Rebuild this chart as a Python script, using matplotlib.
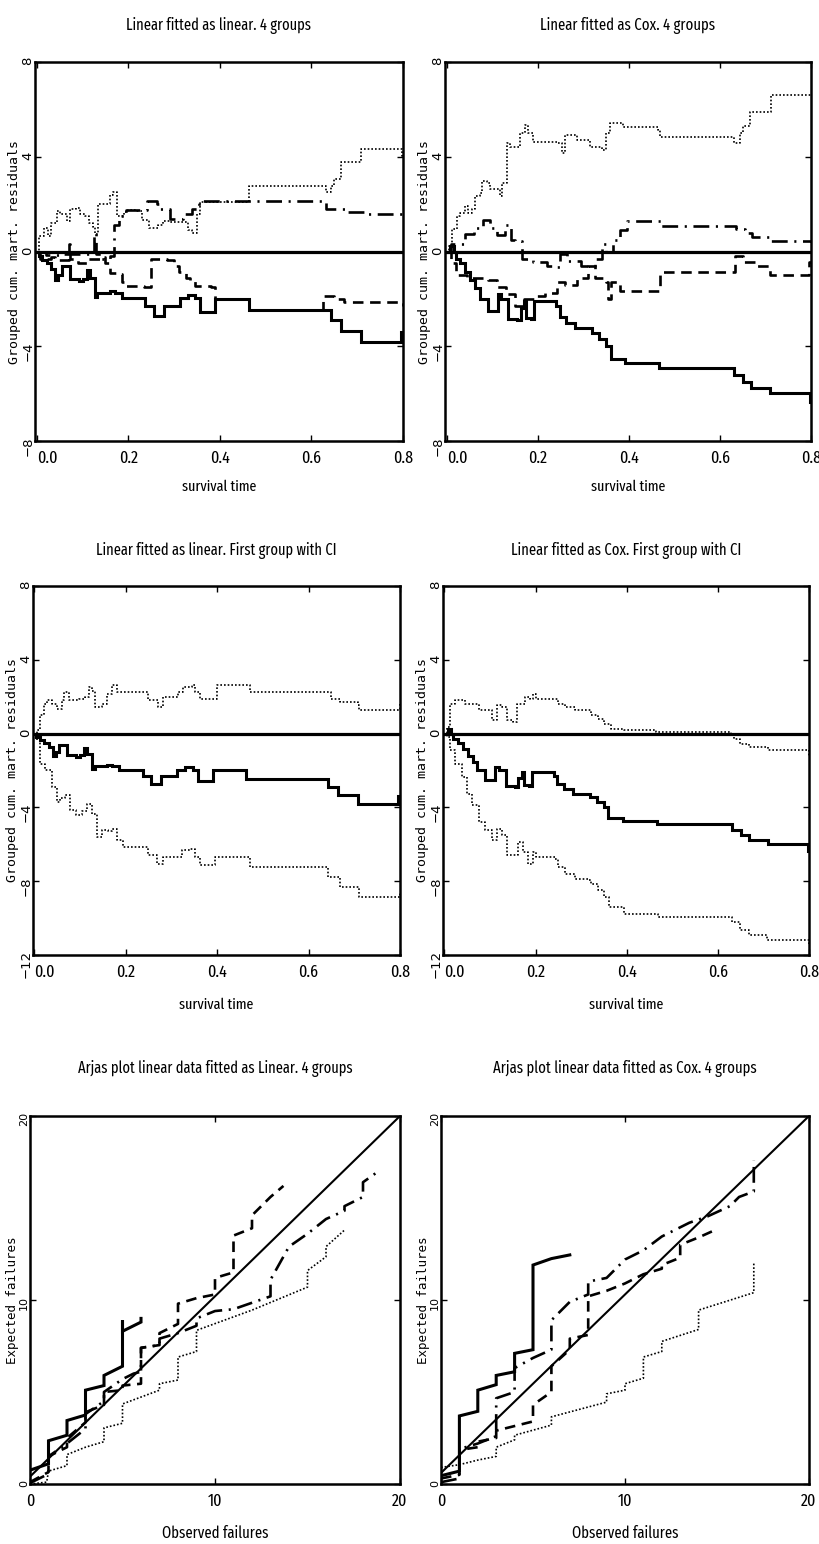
import matplotlib
matplotlib.use("Agg")
import matplotlib.pyplot as plt
import matplotlib.font_manager as fm

# ---------------- data ----------------
# Cumulative martingale residuals, linear model fitted as linear (4 groups)
lin_g1_x = [0.000, 0.004, 0.012, 0.022, 0.032, 0.040, 0.047, 0.054, 0.072, 0.092, 0.100, 0.109, 0.116,
            0.127, 0.132, 0.160, 0.170, 0.186, 0.237, 0.255, 0.277, 0.313, 0.330, 0.346, 0.357, 0.390,
            0.464, 0.643, 0.665, 0.709, 0.796, 0.800]
lin_g1_y = [0.0, -0.2, -0.35, -0.5, -0.75, -1.2, -1.0, -0.62, -1.18, -1.25, -1.18, -0.76, -1.1,
            -1.9, -1.75, -1.68, -1.75, -1.96, -2.31, -2.73, -2.31, -1.96, -1.82, -1.96, -2.55, -2.0,
            -2.45, -2.9, -3.35, -3.8, -3.4, -3.4]

lin_g2_x = [0.000, 0.008, 0.030, 0.040, 0.070, 0.072, 0.090, 0.110, 0.140, 0.150, 0.160, 0.172, 0.185,
            0.195, 0.235, 0.250, 0.270, 0.285, 0.300, 0.310, 0.325, 0.335, 0.345, 0.380, 0.390, 0.464,
            0.625, 0.650, 0.672, 0.800]
lin_g2_y = [0.0, -0.3, -0.25, -0.35, 0.3, -0.3, -0.5, -0.3, -0.25, -0.5, -0.9, -0.95, -1.3,
            -1.45, -1.5, -0.3, -0.3, -0.35, -0.6, -0.85, -1.1, -1.25, -1.45, -1.5, -2.0, -2.45,
            -1.87, -2.0, -2.13, -2.3]

lin_g3_x = [0.000, 0.020, 0.060, 0.100, 0.125, 0.130, 0.140, 0.160, 0.168, 0.180, 0.195, 0.240, 0.263,
            0.270, 0.290, 0.320, 0.340, 0.354, 0.615, 0.632, 0.680, 0.720, 0.800]
lin_g3_y = [0.0, -0.15, -0.1, -0.1, 0.77, -0.1, -0.3, -0.2, 1.1, 1.5, 1.77, 2.15, 2.0,
            1.8, 1.37, 1.58, 1.8, 2.14, 2.14, 1.8, 1.65, 1.58, 1.58]

lin_g4_x = [0.000, 0.005, 0.015, 0.025, 0.032, 0.044, 0.050, 0.065, 0.072, 0.085, 0.095, 0.105, 0.115,
            0.122, 0.127, 0.134, 0.155, 0.160, 0.166, 0.175, 0.190, 0.200, 0.215, 0.230, 0.245, 0.265,
            0.275, 0.290, 0.320, 0.330, 0.340, 0.350, 0.356, 0.400, 0.464, 0.632, 0.643, 0.650, 0.665,
            0.709, 0.797, 0.800]
lin_g4_y = [0.0, 0.65, 1.0, 0.65, 1.2, 1.7, 1.6, 1.3, 1.8, 1.85, 1.6, 1.5, 1.2,
            1.05, 0.75, 2.0, 2.0, 2.4, 2.5, 1.5, 1.65, 1.75, 1.7, 1.35, 1.0, 1.1,
            1.3, 1.25, 1.25, 0.9, 0.8, 1.6, 2.07, 2.1, 2.77, 2.5, 2.75, 3.06, 3.76,
            4.32, 4.04, 4.04]

# Linear model fitted as Cox (4 groups)
cox_g1_x = [0.000, 0.008, 0.015, 0.020, 0.030, 0.040, 0.052, 0.062, 0.072, 0.090, 0.108, 0.112, 0.120,
            0.135, 0.155, 0.162, 0.170, 0.175, 0.185, 0.192, 0.240, 0.248, 0.262, 0.282, 0.320, 0.335,
            0.350, 0.360, 0.392, 0.466, 0.630, 0.650, 0.668, 0.710, 0.797, 0.800]
cox_g1_y = [0.0, 0.25, 0.0, -0.3, -0.5, -0.85, -1.2, -1.55, -2.0, -2.5, -2.5, -1.8, -2.0,
            -2.85, -2.9, -2.4, -2.1, -2.8, -2.85, -2.1, -2.3, -2.75, -3.0, -3.25, -3.45, -3.7,
            -4.0, -4.55, -4.72, -4.92, -5.2, -5.5, -5.75, -5.98, -6.37, -6.37]

cox_g2_x = [0.000, 0.010, 0.020, 0.045, 0.090, 0.110, 0.130, 0.150, 0.170, 0.193, 0.215, 0.243, 0.260,
            0.285, 0.310, 0.325, 0.350, 0.355, 0.360, 0.380, 0.468, 0.632, 0.650, 0.680, 0.710, 0.795,
            0.800]
cox_g2_y = [0.0, -0.5, -1.0, -1.1, -1.2, -1.5, -1.8, -2.3, -2.0, -1.89, -1.74, -1.3, -1.4,
            -1.1, -0.63, -1.1, -1.3, -2.0, -1.3, -1.65, -0.88, -0.2, -0.45, -0.6, -1.0, -0.46,
            -0.46]

cox_g3_x = [0.000, 0.010, 0.040, 0.060, 0.079, 0.095, 0.110, 0.127, 0.140, 0.150, 0.165, 0.190, 0.220,
            0.240, 0.248, 0.265, 0.295, 0.325, 0.340, 0.350, 0.365, 0.380, 0.395, 0.470, 0.635, 0.655,
            0.670, 0.710, 0.800]
cox_g3_y = [0.0, 0.3, 0.72, 1.0, 1.35, 1.0, 0.7, 1.1, 0.5, 0.45, -0.3, -0.45, -0.6,
            -0.65, -0.1, -0.4, -0.6, -0.3, 0.3, 0.0, 0.5, 0.9, 1.3, 1.08, 0.94, 0.8,
            0.6, 0.45, 0.41]

cox_g4_x = [0.000, 0.004, 0.011, 0.022, 0.029, 0.040, 0.047, 0.055, 0.062, 0.073, 0.077, 0.088, 0.095,
            0.110, 0.117, 0.121, 0.132, 0.139, 0.153, 0.161, 0.172, 0.179, 0.190, 0.241, 0.252, 0.259,
            0.285, 0.314, 0.340, 0.350, 0.358, 0.387, 0.464, 0.468, 0.630, 0.643, 0.650, 0.665, 0.712,
            0.800]
cox_g4_y = [0.0, 0.24, 0.94, 1.5, 1.64, 1.92, 1.64, 1.8, 2.34, 2.48, 2.97, 2.9, 2.62,
            2.62, 2.34, 2.9, 4.57, 4.43, 4.43, 5.0, 5.34, 5.0, 4.64, 4.57, 4.15, 4.92,
            4.71, 4.43, 4.29, 5.0, 5.41, 5.27, 5.13, 4.85, 4.57, 5.0, 5.3, 5.9, 6.6,
            6.6]

# First group with pointwise confidence limits
lin_up_x = [0.000, 0.006, 0.013, 0.020, 0.028, 0.039, 0.049, 0.060, 0.064, 0.075, 0.097, 0.111, 0.119,
            0.126, 0.133, 0.148, 0.159, 0.169, 0.180, 0.242, 0.249, 0.271, 0.282, 0.315, 0.326, 0.344,
            0.351, 0.362, 0.399, 0.471, 0.649, 0.668, 0.708, 0.711, 0.799, 0.800]
lin_up_y = [0.0, 0.18, 1.0, 1.63, 1.8, 1.6, 1.35, 1.8, 2.26, 1.8, 1.85, 2.0, 2.53,
            2.3, 1.45, 1.63, 2.17, 2.62, 2.26, 2.26, 1.8, 1.45, 2.0, 2.26, 2.53, 2.62,
            2.26, 1.9, 2.62, 2.26, 1.9, 1.72, 1.54, 1.26, 1.63, 1.63]
lin_lo_x = [0.000, 0.006, 0.013, 0.024, 0.039, 0.049, 0.057, 0.068, 0.079, 0.090, 0.104, 0.115, 0.126,
            0.137, 0.148, 0.162, 0.169, 0.180, 0.195, 0.249, 0.268, 0.282, 0.322, 0.340, 0.351, 0.362,
            0.395, 0.471, 0.642, 0.668, 0.711, 0.799, 0.800]
lin_lo_y = [0.0, -0.36, -1.63, -2.0, -2.9, -3.7, -3.5, -3.34, -4.15, -4.43, -4.2, -3.8, -4.34,
            -5.6, -5.24, -5.3, -5.15, -5.78, -6.14, -6.6, -7.05, -6.7, -6.3, -6.23, -6.7, -7.14,
            -6.7, -7.23, -7.77, -8.31, -8.85, -8.58, -8.58]

cox_up_x = [0.000, 0.006, 0.013, 0.024, 0.046, 0.075, 0.104, 0.115, 0.126, 0.137, 0.151, 0.159, 0.177,
            0.187, 0.195, 0.202, 0.242, 0.249, 0.264, 0.286, 0.322, 0.337, 0.351, 0.366, 0.395, 0.464,
            0.628, 0.635, 0.649, 0.668, 0.711, 0.799, 0.800]
cox_up_y = [0.0, 0.36, 1.63, 1.8, 1.63, 1.26, 0.72, 1.54, 1.45, 0.72, 0.63, 1.63, 2.0,
            1.85, 2.17, 1.9, 1.9, 1.63, 1.45, 1.26, 1.0, 0.81, 0.54, 0.27, 0.18, 0.09,
            0.0, -0.27, -0.54, -0.72, -0.9, -1.26, -1.26]
cox_lo_x = [0.000, 0.006, 0.013, 0.024, 0.039, 0.049, 0.060, 0.075, 0.090, 0.104, 0.115, 0.126, 0.137,
            0.151, 0.162, 0.173, 0.184, 0.195, 0.202, 0.242, 0.249, 0.264, 0.286, 0.315, 0.322, 0.337,
            0.351, 0.362, 0.395, 0.468, 0.631, 0.649, 0.668, 0.708, 0.799, 0.800]
cox_lo_y = [0.0, -0.18, -0.9, -1.63, -2.35, -3.25, -3.88, -4.79, -5.24, -5.78, -5.15, -5.5, -6.6,
            -6.6, -5.87, -6.41, -7.05, -6.4, -6.7, -6.8, -7.23, -7.6, -7.86, -7.95, -8.13, -8.5,
            -8.85, -9.4, -9.76, -9.94, -10.2, -10.66, -10.93, -11.2, -11.47, -11.47]

# Arjas plots: observed vs expected failures
diag_x = [0, 20]
diag_lin_y = [0.4, 20]
diag_cox_y = [0.6, 20]

arj_lin_g1_x = [0, 1, 1, 2, 2, 3, 3, 4, 4, 5, 5, 5, 6, 6]
arj_lin_g1_y = [0.75, 1.1, 2.35, 2.65, 3.45, 3.75, 5.1, 5.35, 5.9, 6.4, 8.9, 8.3, 8.8, 9.0]
arj_lin_g2_x = [0, 1, 1, 2, 2, 3, 3, 4, 4, 5, 5, 6, 6, 7, 7, 8, 8, 9, 10, 10, 11, 11, 12, 12, 13, 13.7]
arj_lin_g2_y = [0.1, 0.65, 1.5, 2.0, 2.5, 3.35, 3.9, 4.3, 5.0, 5.1, 5.35, 5.45, 7.4, 7.55, 8.2, 8.7,
                9.8, 10.1, 10.3, 11.2, 11.5, 13.5, 13.9, 14.6, 15.6, 16.2]
arj_lin_g3_x = [0, 1, 1, 2, 3, 3, 4, 4, 5, 5.6, 6, 6, 7, 7, 8, 9, 9, 10, 11, 12, 13, 13, 14, 15, 16, 17,
                17, 18, 18, 18.7]
arj_lin_g3_y = [0.05, 0.55, 1.5, 2.2, 3.0, 3.8, 4.5, 5.0, 5.7, 6.0, 6.1, 7.4, 7.55, 7.9, 8.2, 8.6,
                9.0, 9.4, 9.5, 9.85, 10.2, 11.1, 12.9, 13.6, 14.4, 14.85, 15.1, 15.6, 16.4, 16.9]
arj_lin_g4_x = [0, 0.9, 1, 2, 2, 3, 4, 4, 5, 5, 7, 7, 8, 8, 9, 9, 12, 15, 15, 16, 16, 17]
arj_lin_g4_y = [0.0, 0.1, 0.7, 1.0, 1.6, 2.0, 2.3, 3.05, 3.3, 4.35, 5.1, 5.45, 5.65, 6.9, 7.2, 8.35,
                9.45, 10.7, 11.6, 12.35, 12.9, 13.8]

arj_cox_g1_x = [0, 1, 1, 2, 2, 3, 3, 4, 4, 5, 5, 6, 7]
arj_cox_g1_y = [0.45, 0.7, 3.7, 3.95, 5.1, 5.4, 5.9, 6.1, 7.1, 7.3, 11.9, 12.25, 12.45]
arj_cox_g2_x = [0, 1, 1, 2, 2, 3, 3, 5, 5, 6, 6, 7, 7, 8, 8, 9, 10, 11, 12, 12, 13, 13, 14, 15]
arj_cox_g2_y = [0.3, 0.5, 1.85, 2.0, 2.3, 2.5, 2.9, 3.4, 4.3, 5.0, 6.4, 7.3, 7.9, 8.1, 10.2, 10.5,
                10.9, 11.4, 11.7, 11.9, 12.3, 13.0, 13.4, 13.85]
arj_cox_g3_x = [0, 1, 1, 2, 3, 3, 4, 4, 5, 6, 6, 7, 8, 8, 9, 10, 11, 12, 13.5, 14.5, 15.7, 16.2, 17, 17]
arj_cox_g3_y = [0.1, 0.3, 1.9, 2.2, 2.6, 4.66, 5.0, 6.3, 6.85, 7.3, 8.9, 9.9, 10.3, 11.0, 11.2,
                12.2, 12.7, 13.45, 14.2, 14.55, 15.1, 15.6, 15.9, 17.6]
arj_cox_g4_x = [0, 1, 2, 3, 3, 4, 4, 6, 6, 9, 9, 10, 10, 11, 11, 12, 12, 14, 14, 17, 17]
arj_cox_g4_y = [0.9, 1.05, 1.3, 1.5, 2.0, 2.4, 2.65, 3.2, 3.65, 4.45, 4.9, 5.1, 5.45, 5.75, 6.9,
                7.2, 7.75, 8.4, 9.45, 10.4, 12.0]

titles = ["Linear fitted as linear. 4 groups", "Linear fitted as Cox. 4 groups",
          "Linear fitted as linear. First group with CI", "Linear fitted as Cox. First group with CI",
          "Arjas plot linear data fitted as Linear. 4 groups", "Arjas plot linear data fitted as Cox. 4 groups"]
time_ticks = [0.0, 0.2, 0.4, 0.6, 0.8]
resid_ticks_4 = [-8, -4, 0, 4, 8]
resid_ticks_ci = [-12, -8, -4, 0, 4, 8]
arjas_ticks = [0, 10, 20]

# ---------------- fonts ----------------
def find_narrow():
    cands = []
    for f in fm.fontManager.ttflist:
        fn = f.fname.lower()
        if any(k in fn for k in ("bold", "italic", "oblique", "light", "thin", "black", "medium", "semi")):
            continue
        score = None
        if "extracondensed" in fn or "extra-condensed" in fn:
            score = 0
        elif "condensed" in fn:
            score = 1
        elif "narrow" in fn:
            score = 2
        if score is not None:
            cands.append((score, f.fname))
    if cands:
        cands.sort()
        return cands[0][1]
    return None

NARROW = find_narrow()

def narrow(size):
    if NARROW:
        return fm.FontProperties(fname=NARROW, size=size)
    return fm.FontProperties(family="DejaVu Sans", size=size)

# ---------------- figure ----------------
W, H = 819, 1544
fig = plt.figure(figsize=(W / 100, H / 100), dpi=100)

def add_ax(l, t, r, b):
    return fig.add_axes([l / W, 1 - b / H, (r - l) / W, (b - t) / H])

boxes = [(35, 62, 403, 441), (445, 62, 811, 441),
         (33, 586, 400, 955), (443, 586, 809, 955),
         (30, 1116, 400, 1484), (441, 1116, 809, 1484)]
axes = [add_ax(*b) for b in boxes]

solid = dict(color="black", lw=2.2, ls="-", solid_joinstyle="miter")
dashed = dict(color="black", lw=1.9, ls=(0, (4, 2.5)))
dashdot = dict(color="black", lw=1.9, ls=(0, (6, 2.5, 0.8, 2.5)))
dotted = dict(color="black", lw=1.2, ls=(0, (1, 1.2)))

def style(ax, xt, yt, xlim, ylim, xfmt, first_left, ysize):
    ax.set_xlim(*xlim)
    ax.set_ylim(*ylim)
    ax.set_xticks(xt)
    ax.set_xticklabels([xfmt(v) for v in xt])
    ax.set_yticks(yt)
    for s in ax.spines.values():
        s.set_linewidth(1.8)
    ax.tick_params(direction="in", length=4, width=1, top=True, right=True)
    ax.tick_params(axis="y", labelrotation=90, pad=0.5, labelsize=ysize)
    ax.tick_params(axis="x", pad=7)
    labs = ax.get_xticklabels()
    for lab in labs:
        lab.set_fontproperties(narrow(12.5))
    if first_left:
        labs[0].set_horizontalalignment("left")

fmt_t = lambda v: f"{v:.1f}"
fmt_i = lambda v: f"{int(v)}"

# top row: 4 groups
for ax, g in zip(axes[:2], [(lin_g1_x, lin_g1_y, lin_g2_x, lin_g2_y, lin_g3_x, lin_g3_y, lin_g4_x, lin_g4_y),
                            (cox_g1_x, cox_g1_y, cox_g2_x, cox_g2_y, cox_g3_x, cox_g3_y, cox_g4_x, cox_g4_y)]):
    ax.axhline(0, color="black", lw=2.3, zorder=1)
    ax.plot(g[6], g[7], drawstyle="steps-post", **dotted)
    ax.plot(g[4], g[5], drawstyle="steps-post", **dashdot)
    ax.plot(g[2], g[3], drawstyle="steps-post", **dashed)
    ax.plot(g[0], g[1], drawstyle="steps-post", **solid)
    style(ax, time_ticks, resid_ticks_4, (-0.004, 0.8), (-8, 8), fmt_t, True, 9.5)

# middle row: first group with CI
for ax, g in zip(axes[2:4], [(lin_g1_x, lin_g1_y, lin_up_x, lin_up_y, lin_lo_x, lin_lo_y),
                             (cox_g1_x, cox_g1_y, cox_up_x, cox_up_y, cox_lo_x, cox_lo_y)]):
    ax.axhline(0, color="black", lw=2.3, zorder=1)
    ax.plot(g[2], g[3], drawstyle="steps-post", **dotted)
    ax.plot(g[4], g[5], drawstyle="steps-post", **dotted)
    ax.plot(g[0], g[1], drawstyle="steps-post", **solid)
    style(ax, time_ticks, resid_ticks_ci, (-0.003, 0.8), (-12, 8), fmt_t, True, 9.5)

# bottom row: Arjas plots
for ax, dy, g in zip(axes[4:], [diag_lin_y, diag_cox_y],
                     [(arj_lin_g1_x, arj_lin_g1_y, arj_lin_g2_x, arj_lin_g2_y, arj_lin_g3_x, arj_lin_g3_y, arj_lin_g4_x, arj_lin_g4_y),
                      (arj_cox_g1_x, arj_cox_g1_y, arj_cox_g2_x, arj_cox_g2_y, arj_cox_g3_x, arj_cox_g3_y, arj_cox_g4_x, arj_cox_g4_y)]):
    ax.plot(diag_x, dy, color="black", lw=1.5)
    ax.plot(g[6], g[7], **dotted)
    ax.plot(g[4], g[5], **dashdot)
    ax.plot(g[2], g[3], **dashed)
    ax.plot(g[0], g[1], **solid)
    style(ax, arjas_ticks, arjas_ticks, (0, 20), (0, 20), fmt_i, False, 8)

# labels
for i, ax in enumerate(axes):
    if i < 2:
        ax.set_xlabel("survival time", fontproperties=narrow(11), labelpad=9)
        ax.set_ylabel("Grouped cum. mart. residuals", family="DejaVu Sans Mono", size=9.5)
    elif i < 4:
        ax.set_xlabel("survival time", fontproperties=narrow(11), labelpad=12)
        ax.set_ylabel("Grouped cum. mart. residuals", family="DejaVu Sans Mono", size=9.5)
    else:
        ax.set_xlabel("Observed failures", fontproperties=narrow(11.5), labelpad=11)
        ax.set_ylabel("Expected failures", family="DejaVu Sans Mono", size=9)

fig.canvas.draw()
r_ = fig.canvas.get_renderer()
# place each y-label just left of its tick labels
for i, ax in enumerate(axes):
    l, t, r, b = boxes[i]
    left_edge = min(lab.get_window_extent(r_).x0 for lab in ax.get_yticklabels() if lab.get_text())
    target = left_edge - 0.8
    ax.yaxis.set_label_coords((target - l) / (r - l), 0.5)

pads = [23, 23, 22, 22, 31, 31]
title_w = [187, 176, 242, 232, 277, 266]
tts = []
for ax, t, p in zip(axes, titles, pads):
    tts.append(ax.set_title(t, fontproperties=narrow(13), pad=p))

fig.canvas.draw()
for t, w in zip(tts, title_w):
    cur = t.get_window_extent(r_).width
    t.set_fontsize(t.get_fontsize() * w / cur)

fig.savefig("out.png", dpi=100, facecolor="white")
